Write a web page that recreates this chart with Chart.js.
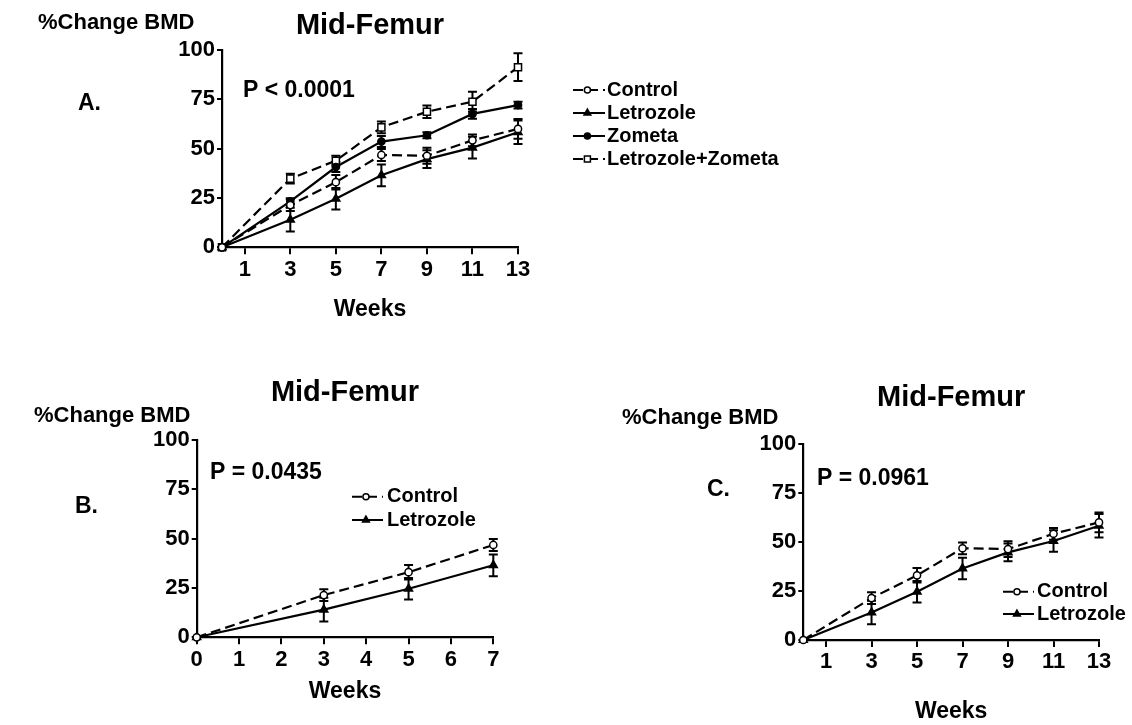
<!DOCTYPE html>
<html><head><meta charset="utf-8">
<script src="https://cdn.jsdelivr.net/npm/chart.js@4.4.1/dist/chart.umd.min.js"></script>
<style>
html,body{margin:0;padding:0;background:#fff;}
#wrap{position:relative;width:1132px;height:725px;overflow:hidden;background:#fff;}
canvas{position:absolute;left:0;top:0;}
</style></head><body>
<div id="wrap">
<canvas id="cA" width="1132" height="725"></canvas>
<canvas id="cB" width="1132" height="725"></canvas>
<canvas id="cC" width="1132" height="725"></canvas>
</div>
<script>
// ---- data ----
const weeks = [0, 3, 5, 7, 9, 11, 13];
const weeksB = [0, 3, 5, 7];
const control = [0, 21.4, 33.0, 46.8, 46.4, 54.2, 60.0];
const controlErr = [0, 3.0, 3.7, 3.0, 4.0, 3.0, 5.0];
const letrozole = [0, 14.0, 24.6, 36.5, 44.7, 50.5, 58.3];
const letrozoleErr = [0, 6.0, 5.5, 5.5, 4.5, 5.5, 6.0];
const zometa = [0, 23.3, 40.7, 53.6, 56.8, 67.6, 72.1];
const zometaErr = [0, 1.5, 2.5, 2.8, 1.5, 2.5, 1.7];
const letZom = [0, 34.8, 43.9, 60.8, 68.7, 73.8, 91.3];
const letZomErr = [0, 2.5, 2.5, 3.0, 3.2, 5.0, 7.0];
const xTicksOdd = [1, 3, 5, 7, 9, 11, 13];
const xTicksB = [0, 1, 2, 3, 4, 5, 6, 7];
const yTicks = [0, 25, 50, 75, 100];
const labels = ['Control', 'Letrozole', 'Zometa', 'Letrozole+Zometa'];

const FONT = "'Liberation Sans', Arial, Helvetica, sans-serif";

const styles = {
  Control: {dash: [10, 5], style: 'circle', radius: 3.6, fill: '#fff'},
  Letrozole: {dash: [], style: 'triangle', radius: 4.6, fill: '#000'},
  Zometa: {dash: [], style: 'circle', radius: 3.6, fill: '#000'},
  'Letrozole+Zometa': {dash: [10, 5], style: 'rect', radius: 5, fill: '#fff'}
};

// ---- plugins ----
const errorBars = {
  id: 'errorBars',
  beforeDatasetsDraw(chart) {
    const {ctx, scales: {x, y}} = chart;
    ctx.save();
    ctx.strokeStyle = '#000';
    ctx.lineWidth = 2;
    ctx.setLineDash([]);
    chart.data.datasets.forEach(ds => {
      if (!ds.errors) return;
      ds.data.forEach((p, i) => {
        const e = ds.errors[i];
        if (!e) return;
        const px = x.getPixelForValue(p.x);
        const yt = y.getPixelForValue(p.y + e);
        const yb = y.getPixelForValue(p.y - e);
        ctx.beginPath();
        ctx.moveTo(px, yt); ctx.lineTo(px, yb);
        ctx.moveTo(px - 4.5, yt); ctx.lineTo(px + 4.5, yt);
        ctx.moveTo(px - 4.5, yb); ctx.lineTo(px + 4.5, yb);
        ctx.stroke();
      });
    });
    ctx.restore();
  }
};

const sampleLegend = {
  id: 'sampleLegend',
  afterDraw(chart, args, o) {
    const ctx = chart.ctx;
    chart.data.datasets.forEach((ds, i) => {
      const y = o.y + i * o.dy;
      ctx.save();
      ctx.strokeStyle = '#000';
      ctx.lineWidth = 2;
      ctx.setLineDash(ds.borderDash || []);
      ctx.beginPath();
      ctx.moveTo(o.x, y); ctx.lineTo(o.x + o.len, y);
      ctx.stroke();
      ctx.setLineDash([]);
      ctx.fillStyle = ds.pointBackgroundColor;
      ctx.strokeStyle = '#000';
      ctx.lineWidth = ds.pointBorderWidth;
      Chart.helpers.drawPoint(ctx, {pointStyle: ds.pointStyle, radius: ds.pointRadius * 0.85,
        borderWidth: ds.pointBorderWidth, rotation: 0}, o.x + o.len * 0.45, y);
      ctx.fillStyle = '#000';
      ctx.font = 'bold 20px ' + FONT;
      ctx.textBaseline = 'middle';
      ctx.textAlign = 'left';
      ctx.fillText(ds.label, o.x + o.len + o.gap, y);
      ctx.restore();
    });
  }
};

const texts = {
  id: 'texts',
  afterDraw(chart, args, o) {
    const ctx = chart.ctx;
    ctx.save();
    ctx.fillStyle = '#000';
    ctx.textBaseline = 'alphabetic';
    ctx.textAlign = 'left';
    (o.items || []).forEach(it => {
      ctx.font = 'bold ' + it.size + 'px ' + FONT;
      ctx.fillText(it.t, it.x, it.y);
    });
    ctx.restore();
  }
};

function makeChart(id, p) {
  return new Chart(document.getElementById(id), {
    type: 'line',
    data: {
      datasets: p.series.map(s => {
        const st = styles[s.label];
        return {
          label: s.label,
          data: p.weeks.map((w, i) => ({x: w, y: s.values[i]})),
          errors: s.errors,
          borderColor: '#000',
          backgroundColor: st.fill,
          pointBackgroundColor: st.fill,
          pointBorderColor: '#000',
          borderWidth: 2.2,
          borderDash: st.dash,
          pointStyle: st.style,
          pointRadius: st.radius,
          pointBorderWidth: 1.5,
          tension: 0,
          fill: false,
          clip: false
        };
      })
    },
    options: {
      responsive: false,
      animation: false,
      devicePixelRatio: 1,
      layout: {padding: p.padding},
      plugins: {
        legend: {display: false},
        tooltip: {enabled: false},
        title: {display: true, text: 'Mid-Femur', fullSize: false, color: '#000',
          font: {family: FONT, size: 29, weight: 'bold', lineHeight: 1.2}, padding: p.titlePad},
        sampleLegend: p.legend,
        texts: {items: p.texts}
      },
      scales: {
        x: {
          type: 'linear', min: p.xMin, max: p.xMax,
          afterBuildTicks: sc => { sc.ticks = p.xTicks.map(v => ({value: v})); },
          afterFit: sc => { sc.height = p.xH; },
          grid: {drawOnChartArea: false, drawTicks: true, tickLength: 7, color: '#000', lineWidth: 2},
          border: {display: true, color: '#000', width: 2.2},
          ticks: {color: '#000', padding: 2, autoSkip: false, maxRotation: 0,
            font: {family: FONT, size: 22, weight: 'bold'}},
          title: {display: true, text: 'Weeks', color: '#000',
            font: {family: FONT, size: 23, weight: 'bold', lineHeight: 1.0},
            padding: {top: 0, bottom: p.weeksPad}}
        },
        y: {
          type: 'linear', min: 0, max: 100,
          afterBuildTicks: sc => { sc.ticks = yTicks.map(v => ({value: v})); },
          afterFit: sc => { sc.width = p.yW; },
          grid: {drawOnChartArea: false, drawTicks: true, tickLength: 5, color: '#000', lineWidth: 2},
          border: {display: true, color: '#000', width: 2.2},
          ticks: {color: '#000', padding: 2, font: {family: FONT, size: 22, weight: 'bold'}}
        }
      }
    },
    plugins: [errorBars, sampleLegend, texts]
  });
}

// Panel A
makeChart('cA', {
  weeks: weeks,
  series: [
    {label: labels[0], values: control, errors: controlErr},
    {label: labels[1], values: letrozole, errors: letrozoleErr},
    {label: labels[2], values: zometa, errors: zometaErr},
    {label: labels[3], values: letZom, errors: letZomErr}
  ],
  xMin: 0, xMax: 13, xTicks: xTicksOdd,
  padding: {left: 0, top: 0, right: 1132 - 518, bottom: 725 - 247.3 - 80},
  yW: 222, xH: 80, weeksPad: 5.8,
  titlePad: {top: 8.6, bottom: 6.6},
  legend: {x: 573, y: 90, dy: 23, len: 32, gap: 2},
  texts: [
    {t: '%Change BMD', x: 38, y: 29, size: 22},
    {t: 'A.', x: 78, y: 110, size: 23},
    {t: 'P < 0.0001', x: 243, y: 96.7, size: 23}
  ]
});

// Panel B
makeChart('cB', {
  weeks: weeksB,
  series: [
    {label: labels[0], values: control.slice(0, 4), errors: controlErr.slice(0, 4)},
    {label: labels[1], values: letrozole.slice(0, 4), errors: letrozoleErr.slice(0, 4)}
  ],
  xMin: 0, xMax: 7, xTicks: xTicksB,
  padding: {left: 0, top: 366, right: 1132 - 493.3, bottom: 725 - 637.3 - 80},
  yW: 196.7, xH: 80, weeksPad: 13.8,
  titlePad: {top: 9.6, bottom: 29.6},
  legend: {x: 352, y: 496.7, dy: 23.3, len: 31, gap: 4},
  texts: [
    {t: '%Change BMD', x: 34, y: 421.7, size: 22},
    {t: 'B.', x: 75, y: 513, size: 23},
    {t: 'P = 0.0435', x: 210, y: 479, size: 23}
  ]
});

// Panel C
makeChart('cC', {
  weeks: weeks,
  series: [
    {label: labels[0], values: control, errors: controlErr},
    {label: labels[1], values: letrozole, errors: letrozoleErr}
  ],
  xMin: 0, xMax: 13, xTicks: xTicksOdd,
  padding: {left: 0, top: 370, right: 1132 - 1099, bottom: 0},
  yW: 803.3, xH: 85, weeksPad: 2,
  titlePad: {top: 10.6, bottom: 28.6},
  legend: {x: 1003, y: 591.7, dy: 22.3, len: 31, gap: 3},
  texts: [
    {t: '%Change BMD', x: 622, y: 424, size: 22},
    {t: 'C.', x: 707, y: 496, size: 23},
    {t: 'P = 0.0961', x: 817, y: 485, size: 23}
  ]
});
</script>
</body></html>
